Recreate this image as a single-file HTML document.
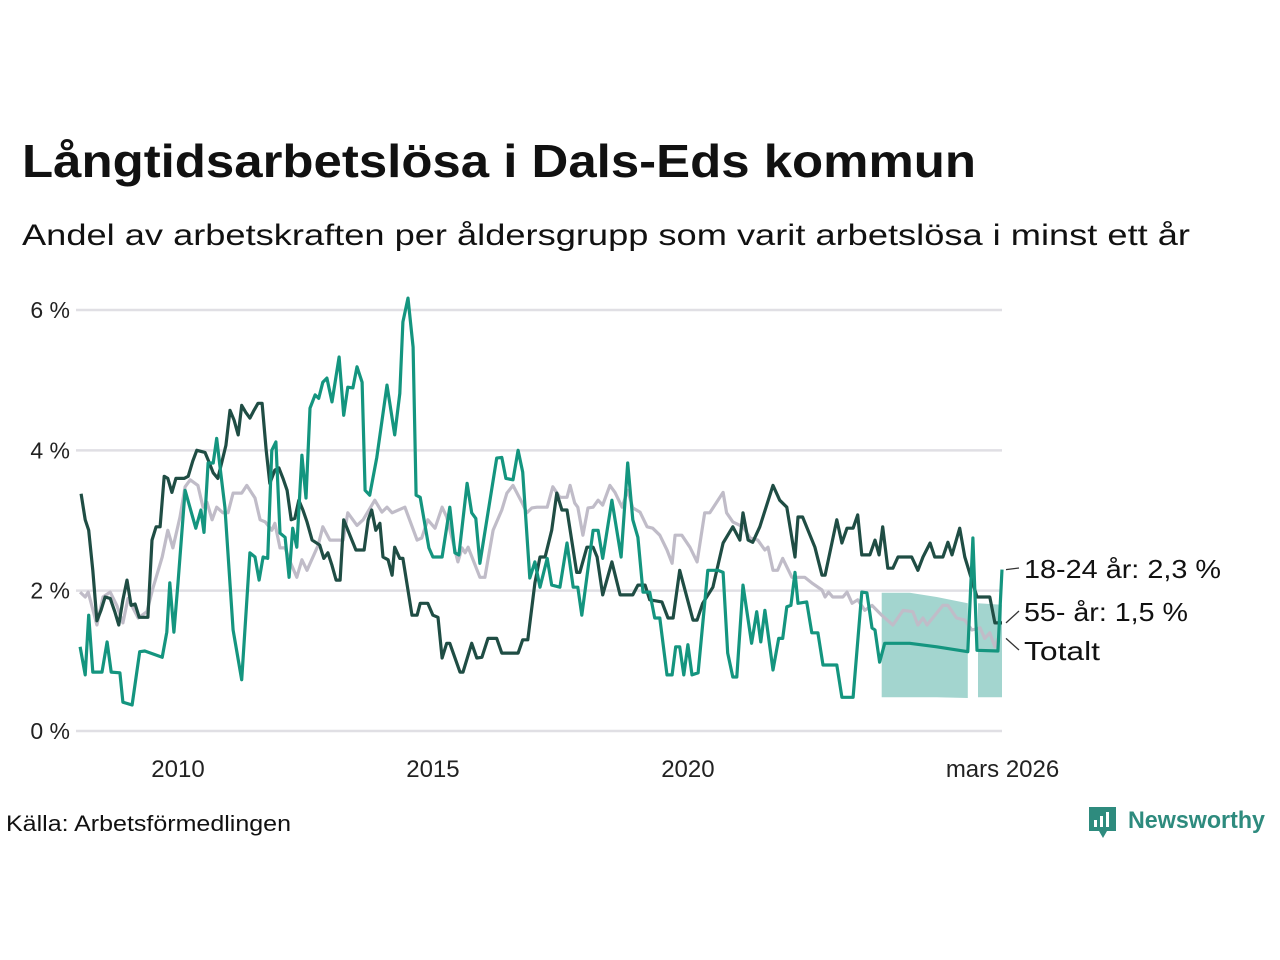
<!DOCTYPE html>
<html><head><meta charset="utf-8">
<style>
html,body{margin:0;padding:0;background:#fff;}
svg{display:block;font-family:"Liberation Sans","DejaVu Sans",sans-serif;}
</style></head>
<body>
<svg id="chart" width="1280" height="960" viewBox="0 0 1280 960">
<text x="22" y="177" font-size="46" font-weight="bold" fill="#111" textLength="954" lengthAdjust="spacingAndGlyphs">Långtidsarbetslösa i Dals-Eds kommun</text>
<text x="22" y="245" font-size="30" fill="#111" textLength="1168" lengthAdjust="spacingAndGlyphs">Andel av arbetskraften per åldersgrupp som varit arbetslösa i minst ett år</text>
<g id="grid"></g>
<g id="yticks"></g>
<g id="xticks"></g>
<g id="bands"></g>
<g id="lines"></g>
<g id="labels"></g>
<text x="6" y="831" font-size="22" fill="#111" textLength="285" lengthAdjust="spacingAndGlyphs">Källa: Arbetsförmedlingen</text>
<g>
<path d="M1089 807 h27 v24 h-9 l-4 7 l-4 -7 h-10 z" fill="#2e8b7e"/>
<rect x="1094" y="820" width="3" height="7" fill="#fff"/>
<rect x="1100" y="816" width="3" height="11" fill="#fff"/>
<rect x="1106" y="812" width="3" height="15" fill="#fff"/>
<text x="1128" y="828" font-size="24" font-weight="bold" fill="#2e8b7e" textLength="137" lengthAdjust="spacingAndGlyphs">Newsworthy</text>
</g>
</svg>
<script>
// ---- data ----
const yTicks = [0, 2, 4, 6];
const yTickLabels = ["0 %", "2 %", "4 %", "6 %"];
const xTicks = [2010, 2015, 2020, 2026.17];
const xTickLabels = ["2010", "2015", "2020", "mars 2026"];

const totalYears = [2008.08,2008.18,2008.24,2008.41,2008.53,2008.67,2008.80,2008.92,2009.02,2009.22,2009.39,2009.51,2009.69,2009.80,2009.90,2010.04,2010.14,2010.24,2010.39,2010.49,2010.57,2010.67,2010.76,2010.88,2010.98,2011.08,2011.25,2011.35,2011.51,2011.61,2011.71,2011.84,2011.90,2012.00,2012.10,2012.20,2012.33,2012.43,2012.53,2012.75,2012.84,2012.98,2013.24,2013.33,2013.51,2013.63,2013.86,2014.00,2014.10,2014.20,2014.45,2014.69,2014.78,2014.90,2015.04,2015.18,2015.27,2015.49,2015.57,2015.63,2015.69,2015.92,2016.02,2016.18,2016.35,2016.45,2016.57,2016.75,2016.84,2016.94,2017.04,2017.24,2017.35,2017.49,2017.63,2017.69,2017.78,2017.84,2017.94,2018.04,2018.14,2018.24,2018.33,2018.47,2018.57,2018.71,2018.82,2018.92,2019.06,2019.20,2019.31,2019.45,2019.59,2019.69,2019.75,2019.88,2020.04,2020.18,2020.33,2020.43,2020.69,2020.76,2020.88,2021.08,2021.22,2021.37,2021.51,2021.57,2021.67,2021.76,2021.86,2022.04,2022.29,2022.43,2022.63,2022.69,2022.76,2022.84,2023.04,2023.12,2023.22,2023.33,2023.47,2023.61,2023.80,2024.02,2024.22,2024.41,2024.51,2024.61,2024.69,2025.00,2025.10,2025.27,2025.43,2025.57,2025.73,2025.82,2025.92,2026.02,2026.08];
const totalValues = [1.98,1.91,1.98,1.51,1.91,1.98,1.79,1.54,1.89,1.61,1.70,2.04,2.48,2.86,2.61,3.05,3.48,3.58,3.50,3.19,3.26,3.01,3.19,3.11,3.11,3.39,3.39,3.50,3.32,3.01,2.98,2.86,2.96,2.61,2.61,2.41,2.19,2.44,2.29,2.65,2.91,2.72,2.72,3.11,2.93,3.01,3.29,3.12,3.19,3.11,3.19,2.72,2.75,3.01,2.89,3.19,3.05,2.41,2.61,2.54,2.62,2.19,2.19,2.86,3.15,3.39,3.50,3.25,3.11,3.18,3.19,3.19,3.48,3.33,3.33,3.50,3.25,3.19,2.79,3.18,3.19,3.29,3.22,3.50,3.40,3.19,3.43,3.18,3.12,2.91,2.89,2.79,2.58,2.39,2.79,2.79,2.62,2.41,3.11,3.11,3.40,3.11,2.98,2.91,2.75,2.72,2.58,2.62,2.29,2.29,2.46,2.19,2.19,2.11,2.01,1.91,1.98,1.91,1.91,1.98,1.82,1.87,1.72,1.79,1.65,1.51,1.72,1.70,1.51,1.61,1.51,1.79,1.79,1.61,1.58,1.44,1.47,1.32,1.40,1.20,1.32];

const olderYears = [2008.10,2008.18,2008.25,2008.33,2008.41,2008.49,2008.57,2008.67,2008.76,2008.84,2008.92,2009.00,2009.08,2009.16,2009.24,2009.41,2009.49,2009.57,2009.65,2009.73,2009.80,2009.88,2009.96,2010.12,2010.20,2010.29,2010.37,2010.53,2010.61,2010.69,2010.78,2010.86,2010.94,2011.02,2011.10,2011.18,2011.25,2011.33,2011.41,2011.49,2011.57,2011.65,2011.73,2011.80,2011.90,2011.98,2012.06,2012.14,2012.22,2012.29,2012.37,2012.45,2012.53,2012.63,2012.78,2012.86,2012.94,2013.02,2013.10,2013.18,2013.25,2013.41,2013.49,2013.65,2013.73,2013.80,2013.88,2013.96,2014.02,2014.12,2014.20,2014.25,2014.35,2014.41,2014.59,2014.69,2014.75,2014.90,2015.00,2015.10,2015.18,2015.27,2015.33,2015.53,2015.59,2015.76,2015.86,2015.96,2016.08,2016.25,2016.35,2016.67,2016.76,2016.86,2017.00,2017.10,2017.20,2017.33,2017.43,2017.53,2017.63,2017.82,2017.88,2018.02,2018.14,2018.22,2018.33,2018.51,2018.67,2018.92,2019.02,2019.16,2019.25,2019.49,2019.61,2019.71,2019.84,2020.10,2020.18,2020.29,2020.49,2020.69,2020.88,2021.02,2021.08,2021.18,2021.27,2021.41,2021.67,2021.80,2021.94,2022.10,2022.16,2022.25,2022.49,2022.63,2022.69,2022.92,2023.02,2023.12,2023.24,2023.33,2023.41,2023.57,2023.67,2023.75,2023.82,2023.92,2024.02,2024.12,2024.39,2024.51,2024.61,2024.75,2024.84,2025.00,2025.10,2025.18,2025.33,2025.43,2025.67,2025.92,2026.02,2026.16];
const olderValues = [3.38,3.01,2.86,2.29,1.57,1.72,1.91,1.89,1.70,1.51,1.87,2.15,1.79,1.81,1.62,1.62,2.72,2.91,2.91,3.63,3.60,3.40,3.60,3.60,3.63,3.85,4.00,3.97,3.83,3.68,3.60,3.83,4.07,4.57,4.43,4.22,4.64,4.54,4.46,4.57,4.67,4.67,4.00,3.53,3.72,3.75,3.60,3.43,3.01,3.03,3.29,3.15,2.98,2.72,2.65,2.46,2.54,2.36,2.15,2.15,3.01,2.72,2.58,2.58,3.01,3.15,2.86,2.96,2.48,2.44,2.22,2.62,2.46,2.46,1.65,1.65,1.82,1.82,1.65,1.62,1.04,1.25,1.25,0.84,0.84,1.25,1.04,1.05,1.32,1.32,1.11,1.11,1.30,1.30,2.11,2.48,2.48,2.86,3.39,3.15,3.15,2.26,2.26,2.62,2.62,2.48,1.94,2.41,1.94,1.94,2.08,2.08,1.87,1.84,1.61,1.61,2.29,1.58,1.58,1.82,2.05,2.68,2.91,2.72,3.11,2.72,2.69,2.91,3.50,3.29,3.19,2.48,3.05,3.05,2.62,2.22,2.22,3.01,2.68,2.89,2.89,3.08,2.51,2.51,2.72,2.51,2.91,2.32,2.32,2.48,2.48,2.29,2.48,2.68,2.48,2.48,2.69,2.51,2.89,2.48,1.91,1.91,1.54,1.54];

const youngYears = [2008.08,2008.18,2008.25,2008.33,2008.51,2008.61,2008.69,2008.86,2008.92,2009.10,2009.25,2009.35,2009.69,2009.78,2009.84,2009.92,2010.00,2010.14,2010.35,2010.45,2010.51,2010.59,2010.69,2010.76,2010.82,2010.92,2011.08,2011.25,2011.41,2011.51,2011.59,2011.67,2011.76,2011.84,2011.92,2012.00,2012.10,2012.18,2012.25,2012.33,2012.43,2012.51,2012.59,2012.69,2012.76,2012.84,2012.92,2013.02,2013.16,2013.25,2013.33,2013.43,2013.51,2013.61,2013.67,2013.76,2013.90,2014.10,2014.25,2014.35,2014.41,2014.51,2014.61,2014.67,2014.75,2014.92,2015.00,2015.18,2015.33,2015.43,2015.51,2015.67,2015.76,2015.84,2015.92,2016.25,2016.35,2016.43,2016.57,2016.67,2016.76,2016.90,2017.00,2017.10,2017.24,2017.33,2017.49,2017.63,2017.75,2017.84,2017.92,2018.14,2018.24,2018.33,2018.51,2018.69,2018.82,2018.92,2019.02,2019.12,2019.25,2019.35,2019.45,2019.59,2019.69,2019.76,2019.84,2019.92,2020.00,2020.08,2020.20,2020.39,2020.59,2020.69,2020.78,2020.88,2020.96,2021.08,2021.25,2021.35,2021.43,2021.51,2021.67,2021.78,2021.86,2021.94,2022.02,2022.10,2022.16,2022.33,2022.43,2022.55,2022.65,2022.92,2023.02,2023.24,2023.41,2023.51,2023.61,2023.67,2023.76,2023.86,2024.35,2024.88,2025.49,2025.59,2025.67,2026.08,2026.16];
const youngValues = [1.20,0.80,1.65,0.84,0.84,1.27,0.84,0.83,0.41,0.37,1.13,1.14,1.05,1.41,2.11,1.41,2.11,3.43,2.89,3.15,2.83,3.82,3.82,4.17,3.79,3.19,1.44,0.73,2.54,2.48,2.15,2.48,2.46,4.00,4.12,2.82,2.76,2.19,2.89,2.62,3.93,3.32,4.60,4.79,4.74,4.97,5.03,4.69,5.33,4.50,4.90,4.89,5.19,4.97,3.43,3.36,3.90,4.93,4.22,4.81,5.83,6.17,5.47,3.36,3.33,2.61,2.48,2.48,3.19,2.54,2.51,3.53,3.11,3.03,2.39,3.89,3.90,3.60,3.58,4.00,3.69,2.18,2.41,2.05,2.46,2.08,2.05,2.68,2.05,2.05,1.65,2.86,2.86,2.46,3.29,2.48,3.82,3.01,2.76,1.98,1.98,1.61,1.61,0.80,0.80,1.20,1.20,0.80,1.23,0.80,0.83,2.29,2.29,2.26,1.11,0.77,0.77,2.08,1.25,1.70,1.27,1.72,0.87,1.32,1.32,1.77,1.79,2.26,1.82,1.84,1.40,1.40,0.94,0.94,0.48,0.48,1.98,1.97,1.47,1.44,0.98,1.25,1.25,1.20,1.13,2.75,1.15,1.14,2.30];

const band1Years = [2023.80, 2024.35, 2024.88, 2025.49];
const band1Upper = [1.97, 1.97, 1.91, 1.82];
const band1Lower = [0.48, 0.48, 0.48, 0.47];
const band2Years = [2025.69, 2026.16];
const band2Upper = [1.82, 1.80];
const band2Lower = [0.48, 0.48];

const labelTexts = ["18-24 år: 2,3 %", "55- år: 1,5 %", "Totalt"];
const labelWidths = [197, 164, 76];

// ---- scales ----
const X0 = 76, X1 = 1002, Y0 = 731, Y6 = 310;
function xs(yr){ return X0 + (yr - 2008) * (X1 - X0) / (2026.16 - 2008); }
function ys(v){ return Y0 - v * (Y0 - Y6) / 6; }
const NS = "http://www.w3.org/2000/svg";
function mk(tag, parent){ const e = document.createElementNS(NS, tag); parent.appendChild(e); return e; }

const grid = document.getElementById('grid');
const yt = document.getElementById('yticks');
yTicks.forEach((v, i) => {
  const l = mk('line', grid);
  
  
  l.setAttribute('x1', X0); l.setAttribute('x2', X1);
  l.setAttribute('y1', ys(v)); l.setAttribute('y2', ys(v));
  l.setAttribute('stroke', '#e0dfe4'); l.setAttribute('stroke-width', '2.5');
  const t = mk('text', yt);
  
  
  t.setAttribute('x', 70); t.setAttribute('y', ys(v) + 8);
  t.setAttribute('text-anchor', 'end'); t.setAttribute('font-size', '23'); t.setAttribute('fill', '#222');
  t.textContent = yTickLabels[i];
});
const xt = document.getElementById('xticks');
xTicks.forEach((yr, i) => {
  const t = mk('text', xt);
  
  
  t.setAttribute('x', xs(yr)); t.setAttribute('y', 777);
  t.setAttribute('text-anchor', 'middle'); t.setAttribute('font-size', '24'); t.setAttribute('fill', '#222');
  t.textContent = xTickLabels[i];
});

const bands = document.getElementById('bands');
function band(yrs, up, lo, name){
  let d = '';
  yrs.forEach((y, i) => { d += (i ? 'L' : 'M') + xs(y).toFixed(1) + ' ' + ys(up[i]).toFixed(1); });
  for (let i = yrs.length - 1; i >= 0; i--) d += 'L' + xs(yrs[i]).toFixed(1) + ' ' + ys(lo[i]).toFixed(1);
  const p = mk('path', bands);
  
  
  p.setAttribute('d', d + 'Z'); p.setAttribute('fill', '#a3d5cf');
}
band(band1Years, band1Upper, band1Lower, 'forecast-band-1');
band(band2Years, band2Upper, band2Lower, 'forecast-band-2');

const lines = document.getElementById('lines');
function line(yrs, vals, color, name){
  const p = mk('polyline', lines);
  
  
  p.setAttribute('points', yrs.map((y, i) => xs(y).toFixed(1) + ',' + ys(vals[i]).toFixed(1)).join(' '));
  p.setAttribute('fill', 'none'); p.setAttribute('stroke', color);
  p.setAttribute('stroke-width', '3.2'); p.setAttribute('stroke-linejoin', 'round');
}
line(totalYears, totalValues, '#c0bcc8', 'line-totalt');
line(olderYears, olderValues, '#1f4d44', 'line-55-ar');
line(youngYears, youngValues, '#14957f', 'line-18-24-ar');

const lab = document.getElementById('labels');
const lastVals = [youngValues[youngValues.length-1], olderValues[olderValues.length-1], totalValues[totalValues.length-1]];
const labelY = [569, 612, 651];
lastVals.forEach((v, i) => {
  const c = mk('polyline', lab);
  
  
  c.setAttribute('points', (X1 + 4) + ',' + ys(v).toFixed(1) + ' 1019,' + (labelY[i] - 1));
  c.setAttribute('fill', 'none'); c.setAttribute('stroke', '#333'); c.setAttribute('stroke-width', '1.3');
  const t = mk('text', lab);
  
  
  t.setAttribute('x', 1024); t.setAttribute('y', labelY[i] + 9);
  t.setAttribute('font-size', '26'); t.setAttribute('fill', '#111');
  t.setAttribute('textLength', labelWidths[i]);
  t.setAttribute('lengthAdjust', 'spacingAndGlyphs');
  t.textContent = labelTexts[i];
});
</script>
</body></html>
